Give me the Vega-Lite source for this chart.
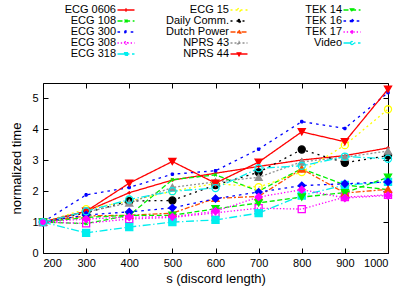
{
  "$schema": "https://vega.github.io/schema/vega-lite/v6.json",
  "width": 345,
  "height": 170,
  "autosize": {"type": "none"},
  "padding": {"left": 43, "top": 83, "right": 27, "bottom": 37},
  "config": {
    "font": "Liberation Sans",
    "view": {"stroke": "black", "strokeWidth": 1},
    "axis": {"labelFontSize": 11, "titleFontSize": 13, "titleFontWeight": "normal", "labelColor": "black", "titleColor": "black", "tickColor": "black", "grid": false, "domain": false, "labelFont": "Liberation Sans", "titleFont": "Liberation Sans"},
    "legend": {"labelFont": "Liberation Sans", "labelFontSize": 11, "labelColor": "black"}
  },
  "data": {"values": [
    {"s":200,"series":"ECG 0606","t":1},{"s":300,"series":"ECG 0606","t":1.35},{"s":400,"series":"ECG 0606","t":1.95},{"s":500,"series":"ECG 0606","t":2.36},{"s":600,"series":"ECG 0606","t":2.58},{"s":700,"series":"ECG 0606","t":2.8},{"s":800,"series":"ECG 0606","t":3.01},{"s":900,"series":"ECG 0606","t":3.15},{"s":1000,"series":"ECG 0606","t":3.4},
    {"s":200,"series":"ECG 108","t":1},{"s":300,"series":"ECG 108","t":0.95},{"s":400,"series":"ECG 108","t":1.22},{"s":500,"series":"ECG 108","t":2.37},{"s":600,"series":"ECG 108","t":2.53},{"s":700,"series":"ECG 108","t":2.0},{"s":800,"series":"ECG 108","t":2.73},{"s":900,"series":"ECG 108","t":2.2},{"s":1000,"series":"ECG 108","t":2.05},
    {"s":200,"series":"ECG 300","t":1},{"s":300,"series":"ECG 300","t":1.88},{"s":400,"series":"ECG 300","t":2.12},{"s":500,"series":"ECG 300","t":2.55},{"s":600,"series":"ECG 300","t":2.66},{"s":700,"series":"ECG 300","t":3.36},{"s":800,"series":"ECG 300","t":4.25},{"s":900,"series":"ECG 300","t":4.03},{"s":1000,"series":"ECG 300","t":5.19},
    {"s":200,"series":"ECG 308","t":1},{"s":300,"series":"ECG 308","t":0.96},{"s":400,"series":"ECG 308","t":1.1},{"s":500,"series":"ECG 308","t":1.15},{"s":600,"series":"ECG 308","t":1.3},{"s":700,"series":"ECG 308","t":1.45},{"s":800,"series":"ECG 308","t":1.42},{"s":900,"series":"ECG 308","t":1.81},{"s":1000,"series":"ECG 308","t":1.88},
    {"s":200,"series":"ECG 318","t":1},{"s":300,"series":"ECG 318","t":0.65},{"s":400,"series":"ECG 318","t":0.84},{"s":500,"series":"ECG 318","t":1.0},{"s":600,"series":"ECG 318","t":1.07},{"s":700,"series":"ECG 318","t":1.29},{"s":800,"series":"ECG 318","t":1.86},{"s":900,"series":"ECG 318","t":2.2},{"s":1000,"series":"ECG 318","t":2.3},
    {"s":200,"series":"ECG 15","t":1},{"s":300,"series":"ECG 15","t":1.42},{"s":400,"series":"ECG 15","t":1.68},{"s":500,"series":"ECG 15","t":2.0},{"s":600,"series":"ECG 15","t":2.25},{"s":700,"series":"ECG 15","t":2.13},{"s":800,"series":"ECG 15","t":2.62},{"s":900,"series":"ECG 15","t":3.49},{"s":1000,"series":"ECG 15","t":4.65},
    {"s":200,"series":"Daily Comm.","t":1},{"s":300,"series":"Daily Comm.","t":1.3},{"s":400,"series":"Daily Comm.","t":1.68},{"s":500,"series":"Daily Comm.","t":1.7},{"s":600,"series":"Daily Comm.","t":2.2},{"s":700,"series":"Daily Comm.","t":2.61},{"s":800,"series":"Daily Comm.","t":3.35},{"s":900,"series":"Daily Comm.","t":2.92},{"s":1000,"series":"Daily Comm.","t":3.15},
    {"s":200,"series":"Dutch Power","t":1},{"s":300,"series":"Dutch Power","t":1.2},{"s":400,"series":"Dutch Power","t":1.22},{"s":500,"series":"Dutch Power","t":1.29},{"s":600,"series":"Dutch Power","t":1.77},{"s":700,"series":"Dutch Power","t":1.83},{"s":800,"series":"Dutch Power","t":2.72},{"s":900,"series":"Dutch Power","t":1.94},{"s":1000,"series":"Dutch Power","t":2.06},
    {"s":200,"series":"NPRS 43","t":1},{"s":300,"series":"NPRS 43","t":1.33},{"s":400,"series":"NPRS 43","t":1.62},{"s":500,"series":"NPRS 43","t":2.12},{"s":600,"series":"NPRS 43","t":2.3},{"s":700,"series":"NPRS 43","t":2.45},{"s":800,"series":"NPRS 43","t":2.95},{"s":900,"series":"NPRS 43","t":3.1},{"s":1000,"series":"NPRS 43","t":3.3},
    {"s":200,"series":"NPRS 44","t":1},{"s":300,"series":"NPRS 44","t":1.35},{"s":400,"series":"NPRS 44","t":2.26},{"s":500,"series":"NPRS 44","t":2.96},{"s":600,"series":"NPRS 44","t":2.26},{"s":700,"series":"NPRS 44","t":2.94},{"s":800,"series":"NPRS 44","t":3.92},{"s":900,"series":"NPRS 44","t":3.6},{"s":1000,"series":"NPRS 44","t":5.3},
    {"s":200,"series":"TEK 14","t":1},{"s":300,"series":"TEK 14","t":1.15},{"s":400,"series":"TEK 14","t":1.22},{"s":500,"series":"TEK 14","t":1.22},{"s":600,"series":"TEK 14","t":1.43},{"s":700,"series":"TEK 14","t":1.62},{"s":800,"series":"TEK 14","t":1.81},{"s":900,"series":"TEK 14","t":1.95},{"s":1000,"series":"TEK 14","t":2.45},
    {"s":200,"series":"TEK 16","t":1},{"s":300,"series":"TEK 16","t":1.23},{"s":400,"series":"TEK 16","t":1.33},{"s":500,"series":"TEK 16","t":1.46},{"s":600,"series":"TEK 16","t":1.76},{"s":700,"series":"TEK 16","t":1.97},{"s":800,"series":"TEK 16","t":2.18},{"s":900,"series":"TEK 16","t":2.24},{"s":1000,"series":"TEK 16","t":2.3},
    {"s":200,"series":"TEK 17","t":1},{"s":300,"series":"TEK 17","t":1.1},{"s":400,"series":"TEK 17","t":1.16},{"s":500,"series":"TEK 17","t":1.17},{"s":600,"series":"TEK 17","t":1.35},{"s":700,"series":"TEK 17","t":1.81},{"s":800,"series":"TEK 17","t":2.05},{"s":900,"series":"TEK 17","t":1.78},{"s":1000,"series":"TEK 17","t":1.86},
    {"s":200,"series":"Video","t":1},{"s":300,"series":"Video","t":1.35},{"s":400,"series":"Video","t":1.73},{"s":500,"series":"Video","t":2.0},{"s":600,"series":"Video","t":2.1},{"s":700,"series":"Video","t":2.74},{"s":800,"series":"Video","t":2.82},{"s":900,"series":"Video","t":3.12},{"s":1000,"series":"Video","t":3.05}
  ]},
  "layer": [
    {
      "mark": {"type": "line", "strokeWidth": 1.3},
      "encoding": {
        "x": {"field": "s", "type": "quantitative", "scale": {"domain": [200, 1000], "nice": false},
              "axis": {"orient": "bottom", "values": [200,300,400,500,600,700,800,900,1000], "format": "d", "tickSize": -5, "labelPadding": 9, "title": "s (discord length)", "titlePadding": 4}},
        "y": {"field": "t", "type": "quantitative", "scale": {"domain": [0, 5.5], "nice": false},
              "axis": {"orient": "left", "values": [0,1,2,3,4,5], "tickSize": -5, "labelPadding": 10, "title": "normalized time", "titlePadding": 8}},
        "color": {"field": "series", "type": "nominal", "legend": null,
          "scale": {"domain": ["ECG 0606","ECG 108","ECG 300","ECG 308","ECG 318","ECG 15","Daily Comm.","Dutch Power","NPRS 43","NPRS 44","TEK 14","TEK 16","TEK 17","Video"],
                    "range": ["#ff0000","#00ee00","#0000ff","#ff00ff","#00eeee","#ffff00","#000000","#ff4d00","#909090","#ff0000","#00ee00","#0000ff","#ff00ff","#00eeee"]}},
        "strokeDash": {"field": "series", "type": "nominal", "legend": null,
          "scale": {"domain": ["ECG 0606","ECG 108","ECG 300","ECG 308","ECG 318","ECG 15","Daily Comm.","Dutch Power","NPRS 43","NPRS 44","TEK 14","TEK 16","TEK 17","Video"],
                    "range": [[1,0],[5,2.6],[2.6,4],[1.3,2],[8,2.6,1.3,2.6],[2,3],[2,4],[5,2,2,2],[2,2],[1,0],[5,2.6],[2.6,4],[1.3,2],[8,2.6,1.3,2.6]]}}
      }
    },
    {
      "mark": {"type": "point", "filled": false, "strokeWidth": 1.3, "size": 50, "opacity": 1},
      "encoding": {
        "x": {"field": "s", "type": "quantitative", "scale": {"domain": [200, 1000], "nice": false},
              "axis": {"orient": "top", "values": [200,300,400,500,600,700,800,900,1000], "tickSize": -5, "labels": false, "title": null}},
        "y": {"field": "t", "type": "quantitative", "scale": {"domain": [0, 5.5], "nice": false},
              "axis": {"orient": "right", "values": [0,1,2,3,4,5], "tickSize": -5, "labels": false, "title": null}},
        "color": {"field": "series", "type": "nominal", "legend": null,
          "scale": {"domain": ["ECG 0606","ECG 108","ECG 300","ECG 308","ECG 318","ECG 15","Daily Comm.","Dutch Power","NPRS 43","NPRS 44","TEK 14","TEK 16","TEK 17","Video"],
                    "range": ["#ff0000","#00ee00","#0000ff","#ff00ff","#00eeee","#ffff00","#000000","#ff4d00","#909090","#ff0000","#00ee00","#0000ff","#ff00ff","#00eeee"]}},
        "fill": {"field": "series", "type": "nominal", "legend": null,
          "scale": {"domain": ["ECG 0606","ECG 108","ECG 300","ECG 308","ECG 318","ECG 15","Daily Comm.","Dutch Power","NPRS 43","NPRS 44","TEK 14","TEK 16","TEK 17","Video"],
                    "range": ["transparent","transparent","transparent","transparent","#00eeee","transparent","#000000","#ff4d00","#909090","#ff0000","#00ee00","#0000ff","#ff00ff","transparent"]}},
        "shape": {"field": "series", "type": "nominal", "legend": null,
          "scale": {"domain": ["ECG 0606","ECG 108","ECG 300","ECG 308","ECG 318","ECG 15","Daily Comm.","Dutch Power","NPRS 43","NPRS 44","TEK 14","TEK 16","TEK 17","Video"],
                    "range": ["M-0.5,0H0.5M0,-0.5V0.5","M-0.4,-0.4L0.4,0.4M-0.4,0.4L0.4,-0.4","M-0.5,0H0.5M0,-0.5V0.5M-0.38,-0.38L0.38,0.38M-0.38,0.38L0.38,-0.38","square","square","circle","circle","triangle-up","triangle-up","triangle-down","triangle-down","diamond","diamond","circle"]}}
      }
    },
    {
      "transform": [{"filter": "false"}],
      "mark": {"type": "point", "filled": false, "strokeWidth": 1.3, "size": 108, "opacity": 1},
      "encoding": {
        "x": {"field": "s", "type": "quantitative", "axis": null},
        "y": {"field": "t", "type": "quantitative", "axis": null},
        "color": {"field": "series", "type": "nominal",
          "scale": {"domain": ["ECG 0606","ECG 108","ECG 300","ECG 308","ECG 318","ECG 15","Daily Comm.","Dutch Power","NPRS 43","NPRS 44","TEK 14","TEK 16","TEK 17","Video"],
                    "range": ["#ff0000","#00ee00","#0000ff","#ff00ff","#00eeee","#ffff00","#000000","#ff4d00","#909090","#ff0000","#00ee00","#0000ff","#ff00ff","#00eeee"]},
          "legend": {"orient": "none", "legendX": 60, "legendY": -79, "columns": 3, "title": null,
                     "symbolSize": 108, "symbolOffset": 17, "rowPadding": 0, "columnPadding": 28, "gridAlign": "all",
                     "labelAlign": "right", "labelOffset": -16, "symbolStrokeWidth": 1.3}},
        "fill": {"field": "series", "type": "nominal",
          "scale": {"domain": ["ECG 0606","ECG 108","ECG 300","ECG 308","ECG 318","ECG 15","Daily Comm.","Dutch Power","NPRS 43","NPRS 44","TEK 14","TEK 16","TEK 17","Video"],
                    "range": ["transparent","transparent","transparent","transparent","#00eeee","transparent","#000000","#ff4d00","#909090","#ff0000","#00ee00","#0000ff","#ff00ff","transparent"]}},
        "shape": {"field": "series", "type": "nominal",
          "scale": {"domain": ["ECG 0606","ECG 108","ECG 300","ECG 308","ECG 318","ECG 15","Daily Comm.","Dutch Power","NPRS 43","NPRS 44","TEK 14","TEK 16","TEK 17","Video"],
                    "range": ["M-1.635,0H1.635M0,-0.35V0.35","M-1.635,0H1.635M-0.28,-0.28L0.28,0.28M-0.28,0.28L0.28,-0.28","M-1.635,0H1.635M0,-0.35V0.35M-0.27,-0.27L0.27,0.27M-0.27,0.27L0.27,-0.27","M-1.635,0H1.635M-0.28,-0.28H0.28V0.28H-0.28Z","M-1.635,0H1.635M-0.28,-0.28H0.28V0.28H-0.28Z","M-1.635,0H1.635M0.3,0A0.3,0.3,0,1,1,-0.3,0A0.3,0.3,0,1,1,0.3,0Z","M-1.635,0H1.635M0.3,0A0.3,0.3,0,1,1,-0.3,0A0.3,0.3,0,1,1,0.3,0Z","M-1.635,0H1.635M0,-0.36L0.33,0.22L-0.33,0.22Z","M-1.635,0H1.635M0,-0.28L0.26,0.17L-0.26,0.17Z","M-1.635,0H1.635M-0.33,-0.22L0.33,-0.22L0,0.36Z","M-1.635,0H1.635M-0.33,-0.22L0.33,-0.22L0,0.36Z","M-1.635,0H1.635M0,-0.36L0.36,0L0,0.36L-0.36,0Z","M-1.635,0H1.635M0,-0.28L0.28,0L0,0.28L-0.28,0Z","M-1.635,0H1.635M0.3,0A0.3,0.3,0,1,1,-0.3,0A0.3,0.3,0,1,1,0.3,0Z"]}},
        "strokeDash": {"field": "series", "type": "nominal",
          "scale": {"domain": ["ECG 0606","ECG 108","ECG 300","ECG 308","ECG 318","ECG 15","Daily Comm.","Dutch Power","NPRS 43","NPRS 44","TEK 14","TEK 16","TEK 17","Video"],
                    "range": [[1,0],[5,2.6],[2.6,4],[1.3,2],[8,2.6,1.3,2.6],[2,3],[2,4],[5,2,2,2],[2,2],[1,0],[5,2.6],[2.6,4],[1.3,2],[8,2.6,1.3,2.6]]}}
      }
    }
  ],
  "resolve": {"axis": {"x": "independent", "y": "independent"},
              "scale": {"color": "independent", "fill": "independent", "shape": "independent", "strokeDash": "independent"}}
}
